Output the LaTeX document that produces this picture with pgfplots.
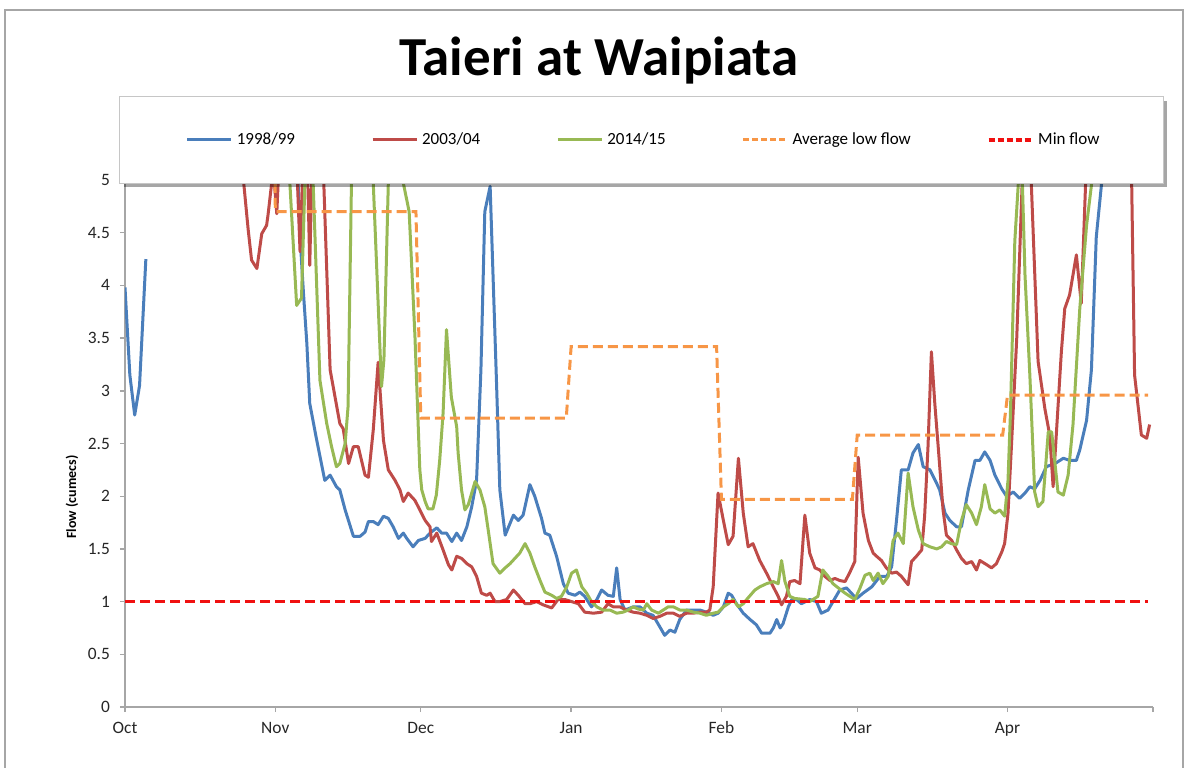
\documentclass[border=0pt]{standalone}
\usepackage{pgfplots}
\pgfplotsset{compat=1.18}
\usepackage{fontspec}
\setmainfont{Carlito}
\usetikzlibrary{shadows}

\definecolor{c98}{HTML}{4A7EBB}
\definecolor{c03}{HTML}{BE4B48}
\definecolor{c14}{HTML}{98B954}
\definecolor{cavg}{HTML}{F79646}
\definecolor{cmin}{HTML}{F01010}
\definecolor{axgray}{HTML}{A6A6A6}

\begin{document}
\begin{tikzpicture}[x=0.5pt,y=0.5pt]
\useasboundingbox (-125,-60) rectangle (1061,707);
\draw[gray!70, line width=0.6pt] (-120,-80) -- (-120,697) -- (1058,697) -- (1058,-80);

\begin{axis}[
  scale only axis, width=514pt, height=263.5pt,
  xmin=0, xmax=212, ymin=0, ymax=5,
  axis lines=left,
  axis line style={-, draw=axgray, line width=0.7pt},
  tick align=outside, major tick length=2.5pt,
  tick style={axgray, line width=0.7pt},
  xtick={0,31,61,92,123,151,182,212},
  xticklabels={Oct,Nov,Dec,Jan,Feb,Mar,Apr,{}},
  ytick={0,0.5,1,1.5,2,2.5,3,3.5,4,4.5,5},
  /pgf/number format/assume math mode=true,
  ticklabel style={font=\fontsize{8.7}{10}\selectfont, text=black!85},
  xticklabel style={text height=6.3pt, yshift=-1.1pt},
  yticklabel style={xshift=-1.5pt},
  unbounded coords=jump,
  every axis plot/.append style={line width=1.5pt, line join=round},
]
% 1998/99
\addplot[c98] coordinates {
(0,3.98) (1,3.15) (2,2.77) (3,3.05) (4.3,4.25) (5,nan)
(31,6.5) (35.2,5.6) (36.1,4.46) (36.8,3.93) (37.5,3.45) (38.1,2.88) (39.5,2.54)
(41.2,2.15) (42.3,2.20) (43.6,2.09) (44.3,2.06) (45.4,1.87) (47.1,1.62) (48.5,1.62)
(49.5,1.66) (50.2,1.76) (51.2,1.76) (52.2,1.73) (53.3,1.81) (54.3,1.79) (55.3,1.71)
(56.4,1.60) (57.4,1.65) (58.1,1.60) (59.4,1.52) (60.5,1.58) (61.9,1.60) (62.9,1.65)
(64.3,1.70) (65.3,1.65) (66.3,1.65) (67.4,1.57) (68.4,1.65) (69.4,1.58) (70.5,1.71)
(71.5,1.90) (72.5,2.15) (73.4,3.2) (74.2,4.70) (75.3,4.94) (76.6,3.10) (77.3,2.06)
(78.4,1.63) (80.1,1.82) (81.1,1.77) (82.1,1.82) (83.5,2.11) (84.5,2.00) (85.9,1.79)
(86.6,1.65) (87.6,1.63) (89.0,1.43) (90.4,1.17) (91.4,1.08) (92.8,1.06) (93.8,1.09)
(94.8,1.05) (96.2,0.95) (97.3,1.02) (98.3,1.11) (99.6,1.06) (100.7,1.05) (101.4,1.32)
(102.1,1.02) (103.1,0.92) (104.8,0.95) (106.2,0.95) (107.6,0.89) (108.9,0.87)
(110.3,0.76) (111.3,0.68) (112.4,0.73) (113.4,0.71) (114.4,0.83) (115.8,0.92)
(117.2,0.92) (118.6,0.92) (119.9,0.90) (121.3,0.87) (122.3,0.89) (123.4,0.95)
(124.4,1.08) (125.1,1.06) (126.1,0.98) (127.5,0.89) (128.9,0.83) (130.2,0.78)
(131.3,0.70) (133.0,0.70) (133.7,0.75) (134.4,0.83) (135.1,0.75) (135.7,0.79)
(136.8,0.95) (137.5,1.02) (138.5,1.02) (139.5,0.98) (141.2,1.02) (142.6,1.00)
(143.6,0.89) (145.0,0.92) (146.0,1.00) (147.4,1.11) (148.8,1.13) (150.2,1.06)
(150.9,1.03) (152.2,1.08) (154.0,1.14) (155.7,1.24) (157.1,1.24) (158.1,1.33)
(159.1,1.77) (160.1,2.25) (161.5,2.25) (162.5,2.41) (163.6,2.49) (164.6,2.28)
(166.0,2.25) (167.4,2.12) (168.0,2.06) (169.1,1.84) (170.1,1.77) (171.5,1.71)
(172.5,1.71) (173.9,2.06) (175.3,2.34) (176.3,2.34) (177.3,2.42) (178.4,2.34)
(179.4,2.20) (180.8,2.07) (181.8,2.00) (183.2,2.04) (184.5,1.98) (185.6,2.03)
(186.6,2.09) (187.6,2.07) (188.7,2.15) (190.0,2.28) (191.8,2.31) (193.5,2.36)
(194.8,2.34) (196.2,2.34) (196.9,2.44) (198.3,2.72) (199.3,3.20) (200.3,4.46)
(201.4,4.97) (203,6.0) (211,8.0)
};
% 2003/04
\addplot[c03] coordinates {
(23.8,5.3) (25.4,4.53) (26.1,4.24) (27.2,4.16) (28.2,4.49) (29.2,4.57) (29.5,4.67)
(30.2,4.95) (30.6,5.1) (31.3,4.68) (31.8,5.2) (35.3,5.3) (36.1,4.32) (36.8,5.3)
(37.6,5.2) (38.1,4.19) (38.6,5.2) (40.9,5.1) (42.3,3.2) (44.3,2.69) (45.0,2.64)
(46.1,2.31) (47.1,2.47) (48.1,2.47) (49.5,2.20) (50.2,2.18) (51.2,2.63) (52.2,3.27)
(53.3,2.53) (54.3,2.25) (55.7,2.15) (56.7,2.06) (57.4,1.95) (58.4,2.03) (59.8,1.96)
(60.8,1.87) (61.9,1.77) (62.9,1.71) (63.2,1.57) (64.3,1.65) (65.6,1.49) (66.7,1.35)
(67.4,1.30) (68.4,1.43) (69.4,1.41) (70.5,1.36) (71.5,1.33) (72.5,1.24) (73.5,1.08)
(74.6,1.06) (75.3,1.08) (76.3,1.00) (77.3,1.00) (78.7,1.02) (80.1,1.11) (81.1,1.06)
(82.5,0.98) (83.5,0.98) (84.9,1.00) (86.2,0.97) (88.0,0.94) (89.3,1.02) (90.7,1.02)
(92.1,1.00) (93.5,0.98) (94.8,0.90) (96.6,0.89) (98.3,0.90) (99.6,0.98) (100.7,0.95)
(102.1,0.95) (103.4,0.92) (104.8,0.90) (106.2,0.89) (107.6,0.87) (108.9,0.84)
(110.3,0.86) (111.7,0.89) (113.1,0.89) (114.4,0.86) (115.8,0.89) (117.2,0.89)
(118.6,0.90) (119.9,0.90) (120.6,0.92) (121.3,1.14) (122.3,2.03) (123.4,1.77)
(124.4,1.54) (125.4,1.62) (126.5,2.36) (127.5,1.84) (128.5,1.52) (129.5,1.55)
(130.9,1.39) (132.3,1.27) (133.7,1.14) (134.7,1.05) (135.4,0.97) (136.4,1.05)
(137.1,1.19) (138.1,1.20) (139.2,1.17) (140.2,1.82) (141.2,1.46) (142.3,1.32)
(143.3,1.30) (144.3,1.24) (145.4,1.20) (146.4,1.22) (147.4,1.20) (148.5,1.19)
(149.5,1.28) (150.5,1.38) (151.2,2.37) (152.2,1.84) (153.3,1.58) (154.3,1.46)
(155.0,1.43) (156.0,1.39) (157.0,1.32) (158.1,1.27) (159.1,1.28) (160.1,1.24)
(161.5,1.16) (162.2,1.38) (163.2,1.43) (164.3,1.49) (164.9,1.81) (165.6,2.47)
(166.3,3.37) (167.0,2.88) (167.7,2.47) (168.7,1.87) (169.4,1.63) (170.5,1.58)
(171.5,1.49) (172.5,1.41) (173.5,1.36) (174.6,1.38) (175.6,1.30) (176.3,1.39)
(177.7,1.35) (178.7,1.32) (179.7,1.36) (180.8,1.47) (181.4,1.55) (182.1,1.84)
(182.8,2.47) (183.9,3.5) (185.0,4.95) (185.9,5.6) (186.9,4.97) (188.3,3.28)
(189.7,2.83) (190.7,2.58) (191.4,2.09) (193.1,3.37) (193.8,3.78) (194.8,3.91)
(196.2,4.29) (197.2,3.83) (198.6,5.6) (206.8,5.6) (207.6,4.97) (208.2,3.15)
(209.6,2.58) (210.7,2.55) (211.3,2.68)
};
% 2014/15
\addplot[c14] coordinates {
(33.5,5.4) (34.0,4.97) (35.4,3.81) (36.4,3.88) (37.1,4.97) (37.7,5.4) (38.2,5.3)
(38.8,4.97) (40.2,3.10) (41.6,2.69) (42.6,2.47) (43.6,2.28) (44.3,2.31) (45.4,2.50)
(46.0,2.85) (46.7,4.97) (47.2,5.4) (50.6,5.4) (51.2,4.97) (52.9,3.04) (53.4,3.3)
(54.3,4.97) (54.9,5.4) (56.8,5.4) (57.4,4.97) (58.6,4.70) (59.8,3.51) (60.8,2.25)
(61.2,2.06) (61.9,1.95) (62.5,1.88) (63.5,1.88) (64.2,2.01) (64.9,2.34) (65.6,2.79)
(66.3,3.58) (67.3,2.94) (68.4,2.66) (68.7,2.41) (69.4,2.06) (70.1,1.87) (70.8,1.92)
(71.5,2.03) (72.2,2.14) (73.2,2.06) (74.2,1.90) (74.9,1.68) (75.9,1.36) (77.3,1.27)
(78.4,1.32) (79.4,1.36) (80.4,1.41) (81.4,1.46) (82.5,1.55) (83.5,1.46) (84.5,1.33)
(85.6,1.20) (86.6,1.09) (88.0,1.06) (89.0,1.03) (90.0,1.05) (91.1,1.14) (92.1,1.27)
(93.1,1.30) (94.2,1.14) (95.2,1.08) (96.2,1.00) (97.3,0.95) (98.6,0.92) (100.0,0.92)
(101.4,0.89) (102.7,0.90) (103.8,0.92) (104.8,0.95) (105.8,0.93) (106.9,0.92)
(107.6,0.98) (108.6,0.92) (110.0,0.89) (111.0,0.92) (112.0,0.95) (113.1,0.95)
(114.4,0.92) (115.8,0.92) (117.2,0.90) (118.6,0.89) (119.9,0.87) (121.3,0.89)
(122.3,0.90) (123.4,0.95) (124.4,0.98) (125.4,1.02) (126.5,0.95) (127.5,0.98)
(128.2,1.02) (129.9,1.11) (130.9,1.14) (132.3,1.17) (133.7,1.19) (134.7,1.17)
(135.4,1.39) (136.1,1.19) (137.1,1.05) (138.1,1.03) (140.2,1.02) (141.2,1.00)
(142.9,1.05) (143.9,1.30) (145.0,1.24) (146.0,1.17) (147.1,1.13) (148.5,1.08)
(149.5,1.05) (150.5,1.02) (151.5,1.12) (152.6,1.25) (153.6,1.27) (154.3,1.20)
(155.3,1.27) (156.3,1.17) (157.4,1.24) (158.4,1.58) (159.4,1.65) (160.5,1.55)
(161.5,2.22) (162.5,1.90) (163.6,1.68) (164.6,1.55) (166.0,1.52) (167.4,1.50)
(168.4,1.52) (169.4,1.57) (170.4,1.55) (171.5,1.54) (172.5,1.77) (173.5,1.92)
(174.6,1.84) (175.6,1.73) (176.6,1.90) (177.3,2.11) (178.4,1.88) (179.4,1.84)
(180.4,1.87) (181.4,1.81) (182.1,2.15) (182.6,2.79) (183.5,4.42) (184.2,4.95)
(184.8,5.4) (185.6,4.10) (186.6,3.15) (187.6,2.04) (188.3,1.90) (189.3,1.95)
(190.4,2.61) (191.1,2.61) (192.4,2.04) (193.5,2.01) (194.5,2.20) (195.5,2.68)
(196.9,3.78) (198.3,4.57) (199.3,4.95) (200.5,5.8) (205,7.0)
};
% Average low flow
\addplot[cavg, dash pattern=on 5pt off 2.5pt, line join=miter] coordinates {
(0,9) (30,9) (31,4.70) (60,4.70) (61,2.74) (91,2.74) (92,3.42) (122,3.42)
(123,1.97) (150,1.97) (151,2.58) (181,2.58) (182,2.96) (211,2.96)
};
% Min flow
\addplot[cmin, line width=1.7pt, dash pattern=on 5pt off 2.5pt] coordinates {
(0,1) (211,1)
};
\end{axis}

\draw[fill=white, draw=gray!45, line width=0.5pt,
  drop shadow={shadow xshift=2pt, shadow yshift=-2pt, fill=black, opacity=0.35}]
  (-5,524) rectangle (1038,610);

\begin{axis}[
  scale only axis, width=514pt, height=263.5pt,
  xmin=0, xmax=1, ymin=0, ymax=1, hide axis,
  legend columns=5,
  legend style={at={(axis description cs:0.5055,1.0759)}, anchor=center,
    draw=none, fill=none, font=\fontsize{8.5}{10}\selectfont,
    /tikz/every even column/.append style={column sep=36pt}},
  legend cell align=left,
  legend image code/.code={\draw[#1] (0pt,0pt) -- (22pt,0pt);},
]
\addlegendimage{c98, line width=1.5pt}
\addlegendentry{1998/99}
\addlegendimage{c03, line width=1.5pt}
\addlegendentry{2003/04}
\addlegendimage{c14, line width=1.5pt}
\addlegendentry{2014/15}
\addlegendimage{cavg, line width=1.5pt, dash pattern=on 3pt off 1.5pt}
\addlegendentry{Average low flow}
\addlegendimage{cmin, line width=1.7pt, dash pattern=on 3pt off 1.5pt}
\addlegendentry{Min flow}
\end{axis}

\node[font=\bfseries\fontsize{27.5}{32}\selectfont, anchor=base] at (474,631) {Taieri at Waipiata};
\node[font=\bfseries\fontsize{7}{8}\selectfont, rotate=90] at (-53,210) {Flow (cumecs)};
\end{tikzpicture}
\end{document}
